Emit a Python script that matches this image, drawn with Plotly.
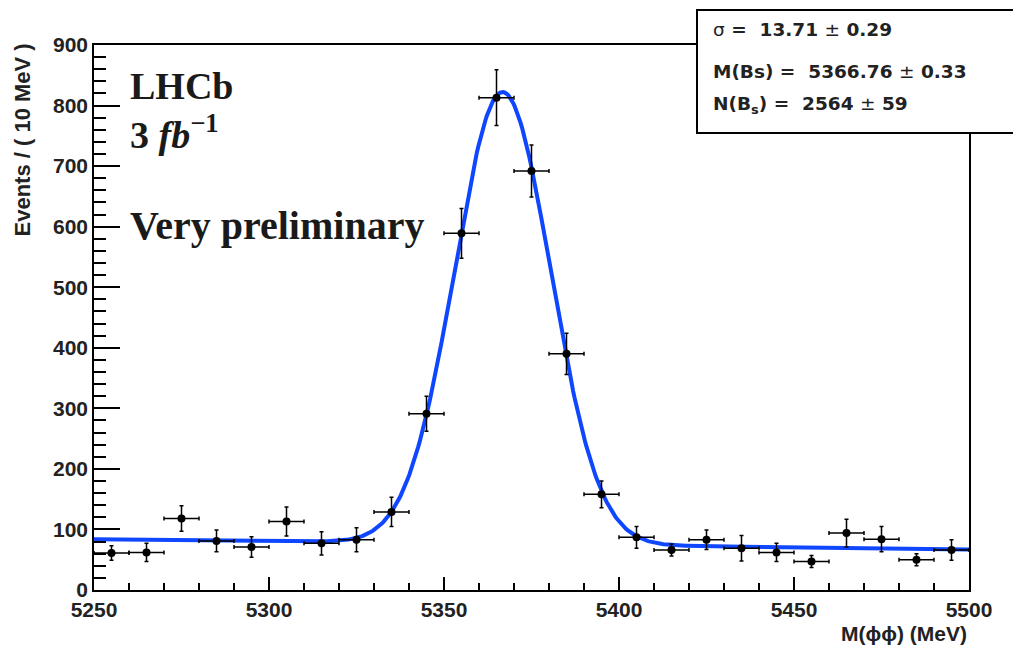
import numpy as np
import plotly.graph_objects as go

# ---------------- data ----------------
bin_centers = [5255, 5265, 5275, 5285, 5295, 5305, 5315, 5325, 5335, 5345,
               5355, 5365, 5375, 5385, 5395, 5405, 5415, 5425, 5435, 5445,
               5455, 5465, 5475, 5485, 5495]
events = [61, 62, 118, 81, 71, 113, 77, 83, 129, 291,
          589, 813, 692, 390, 158, 87, 66, 83, 69, 62,
          47, 94, 84, 50, 66]
events_err = [12, 15, 21, 18, 17, 24, 19, 20, 24, 29,
              41, 46, 43, 34, 22, 18, 10, 16, 21, 15,
              10, 23, 21, 10, 17]
bin_halfwidth = 5

# fit parameters (from the stats box) and background level at the range ends
fit_sigma = 13.71
fit_mean = 5366.76
fit_nsig = 2564
bin_width = 10
bkg_lo, bkg_hi = 84, 67
x_lo, x_hi = 5250, 5500

xf = np.linspace(x_lo, x_hi, 600)
bkg = bkg_lo + (bkg_hi - bkg_lo) * (xf - x_lo) / (x_hi - x_lo)
sig = fit_nsig * bin_width / (np.sqrt(2 * np.pi) * fit_sigma) * np.exp(-0.5 * ((xf - fit_mean) / fit_sigma) ** 2)
yf = bkg + sig

# ---------------- layout helpers ----------------
OFF = 8  # page body margin
W, H = 1021 - OFF, 646 - OFF
L, R, T, B = 94 - OFF, 969 - OFF, 45 - OFF, 590 - OFF


def px(x):
    return (x - OFF - L) / (R - L)


def py(y):
    return (B - (y - OFF)) / (B - T)


fig = go.Figure()

fig.add_trace(go.Scatter(
    x=xf, y=yf, mode="lines",
    line=dict(color="#0f46ff", width=4),
    hoverinfo="skip", showlegend=False, cliponaxis=False))

fig.add_trace(go.Scatter(
    x=bin_centers, y=events, mode="markers",
    marker=dict(color="black", size=8),
    error_y=dict(type="data", array=events_err, color="black", thickness=1.5, width=2),
    error_x=dict(type="constant", value=bin_halfwidth, color="black", thickness=1.5, width=2),
    showlegend=False))

sans = "Liberation Sans"
serif = "Liberation Serif"
stat_font = "DejaVu Sans"

fig.update_layout(
    width=W, height=H,
    margin=dict(l=L, r=W - R, t=T, b=H - B),
    paper_bgcolor="white", plot_bgcolor="white",
    showlegend=False,
    xaxis=dict(range=[x_lo, x_hi], dtick=50, tick0=5250,
               ticks="inside", ticklen=13, tickwidth=1.5, tickcolor="black",
               minor=dict(dtick=10, ticks="inside", ticklen=7, tickwidth=1.5, tickcolor="black"),
               showline=True, linecolor="black", linewidth=1.5, mirror=True,
               showgrid=False, zeroline=False,
               tickfont=dict(family=sans, size=21, color="#222", weight="bold")),
    yaxis=dict(range=[0, 900], dtick=100,
               ticks="inside", ticklen=26, tickwidth=1.5, tickcolor="black",
               minor=dict(dtick=20, ticks="inside", ticklen=12, tickwidth=1.5, tickcolor="black"),
               showline=True, linecolor="black", linewidth=1.5, mirror=True,
               showgrid=False, zeroline=False,
               tickfont=dict(family=sans, size=21, color="#222", weight="bold")),
)

# stats box
fig.add_shape(type="rect", xref="paper", yref="paper",
              x0=px(697), x1=px(1030), y0=py(133), y1=py(10),
              fillcolor="white", line=dict(color="black", width=2), layer="above")

nw = '<span style="font-weight:normal">'
stats_lines = [
    (30, f'{nw}σ</span> =  13.71 {nw}±</span> 0.29'),
    (72, f'M(Bs) =  5366.76 {nw}±</span> 0.33'),
    (105, f'N(B<sub>s</sub>) =  2564 {nw}±</span> 59'),
]
for yy, txt in stats_lines:
    fig.add_annotation(xref="paper", yref="paper", x=px(711), y=py(yy),
                       xanchor="left", yanchor="middle", showarrow=False,
                       text=txt, font=dict(family=stat_font, size=18.5, color="#222", weight="bold"))

# LHCb labels
fig.add_annotation(xref="paper", yref="paper", x=px(128), y=py(86),
                   xanchor="left", yanchor="middle", showarrow=False,
                   text="LHCb", font=dict(family=serif, size=38, color="#1a1a1a", weight="bold"))
fig.add_annotation(xref="paper", yref="paper", x=px(128), y=py(132),
                   xanchor="left", yanchor="middle", showarrow=False,
                   text="<b>3</b> <i>fb</i><sup>−1</sup>", font=dict(family=serif, size=38, color="#1a1a1a", weight="bold"))
fig.add_annotation(xref="paper", yref="paper", x=px(128), y=py(225),
                   xanchor="left", yanchor="middle", showarrow=False,
                   text="Very preliminary", font=dict(family=serif, size=40, color="#1a1a1a", weight="bold"))

# axis titles
fig.add_annotation(xref="paper", yref="paper", x=px(22), y=py(42),
                   xanchor="center", yanchor="top", showarrow=False, textangle=-90,
                   text="Events / ( 10 MeV )", font=dict(family=sans, size=22, color="#222", weight="bold"))
fig.add_annotation(xref="paper", yref="paper", x=px(969), y=py(633),
                   xanchor="right", yanchor="middle", showarrow=False,
                   text="M(ϕϕ) (MeV)", font=dict(family=sans, size=21, color="#222", weight="bold"))

fig.write_html("out.html")
